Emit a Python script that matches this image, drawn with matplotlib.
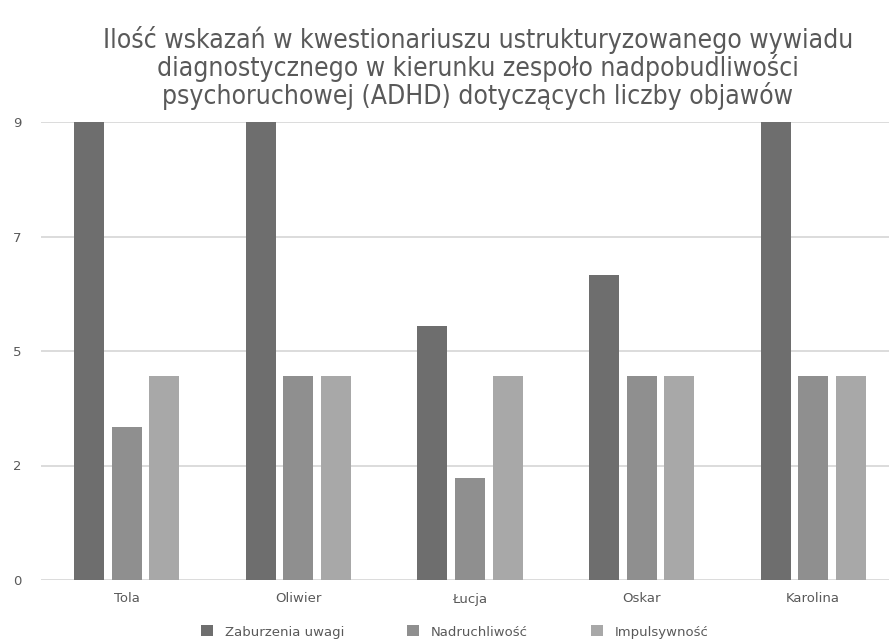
import numpy as np
import matplotlib
matplotlib.use("Agg")
import matplotlib.pyplot as plt

# data
names = ["Tola", "Oliwier", "Łucja", "Oskar", "Karolina"]
zaburzenia = [9, 9, 5, 6, 9]
nadruchliwosc = [3, 4, 2, 4, 4]
impulsywnosc = [4, 4, 4, 4, 4]
series_labels = ["Zaburzenia uwagi", "Nadruchliwość", "Impulsywność"]
yticks = [0, 2.25, 4.5, 6.75, 9]
ytick_labels = ["0", "2", "5", "7", "9"]
title = ("Ilość wskazań w kwestionariuszu ustrukturyzowanego wywiadu\n"
         "diagnostycznego w kierunku zespoło nadpobudliwości\n"
         "psychoruchowej (ADHD) dotyczących liczby objawów")

colours = ["#6e6e6e", "#8f8f8f", "#a8a8a8"]
txt_col = "#595959"

plt.rcParams['font.family'] = ['DejaVu Sans']

fig = plt.figure(figsize=(8.89, 6.44), dpi=100)
ax = fig.add_axes([41/889, 64/644, 848/889, 458/644])

x = np.arange(len(names))
w = 0.175
step = 0.219
for i, (vals, lab) in enumerate(zip([zaburzenia, nadruchliwosc, impulsywnosc], series_labels)):
    ax.bar(x + (i - 1) * step, vals, width=w, color=colours[i], label=lab, zorder=3)

ax.set_xlim(-0.5, -0.5 + 848/171.6)
ax.set_ylim(0, 9)
ax.set_yticks(yticks)
ax.set_yticklabels(ytick_labels)
ax.set_xticks(x)
ax.set_xticklabels(names)
ax.tick_params(axis='both', length=0, colors=txt_col, labelsize=9.5)
ax.tick_params(axis='x', pad=9)
for lbl in ax.get_yticklabels():
    lbl.set_horizontalalignment('left')
ax.tick_params(axis='y', pad=20)
ax.grid(axis='y', color='#d9d9d9', linewidth=1.3, zorder=0)
ax.set_axisbelow(True)
for s in ax.spines.values():
    s.set_visible(False)

fig.text(478/889, 1 - 68/644, title, ha='center', va='center', fontsize=19,
         color=txt_col, linespacing=1.0, fontstretch='condensed')

fig.legend(loc='center', bbox_to_anchor=(455/889, 1 - 632/644), ncol=3, frameon=False,
           fontsize=9.5, labelcolor=txt_col, handlelength=0.9, handleheight=0.9,
           columnspacing=4.8, handletextpad=0.9)

fig.savefig("out.png", dpi=100)
